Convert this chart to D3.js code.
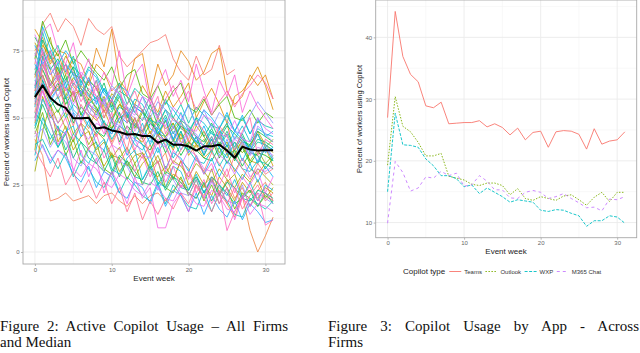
<!DOCTYPE html>
<html><head><meta charset="utf-8">
<script src="https://cdn.jsdelivr.net/npm/d3@7"></script>
<style>body{margin:0;background:#fff}svg{display:block}</style>
</head><body>
<svg id="c" width="640" height="353"></svg>
<script>
const weeks = [0,1,2,3,4,5,6,7,8,9,10,11,12,13,14,15,16,17,18,19,20,21,22,23,24,25,26,27,28,29,30,31];

// Figure 2: one array per firm (percent of workers using Copilot by event week)
const firmUsage = [
[70,85,89,82,87,84,77,87,83,81,84,73,69,72,75,78,79,81,72,67,64,73,66,68,77,66,68],
[42,36,19,20,22,19,20,21,18,21,22,19,17,21,18,21,22,19,23,26,22,20,25,28,21,27,20,24,17,23,26,19],
[60,72,68,57,61,59,51,46,53,48,41,47,44,37,35,40,33,37,27,34,31,24,21,28,25,18,13,21,8,0,6,13],
[75,80,71,74,66,72,70,63,76,69,83,64,60,72,74,58,70,62,66,75,71,64,67,74,76,60,55,58,66,62,66,57],
[83,78,70,75,74,66,65,62,70,67,60,63,58,55,62,57,52,60,54,58,63,50,56,61,55,48,58,60,64,69,62,53],
[55,68,61,64,57,59,60,52,49,53,46,50,51,43,41,45,40,43,38,44,36,40,35,38,41,37,30,35,31,29,33,31],
[65,77,73,66,70,62,58,64,61,54,50,55,53,48,44,50,47,43,46,49,41,39,42,37,45,36,38,41,34,33,39,32],
[48,62,55,41,47,38,43,45,37,32,37,30,34,28,33,36,27,24,29,27,23,30,25,21,28,24,19,26,22,27,20,24],
[78,72,80,66,73,68,61,57,64,52,59,56,49,47,53,44,50,46,48,41,40,47,43,38,44,48,36,42,39,45,40,37],
[38,58,50,53,46,41,48,45,38,41,35,39,32,36,37,30,28,32,27,34,25,28,24,31,22,26,29,21,23,20,24,22],
[30,45,55,48,52,44,48,40,45,42,36,35,39,33,37,31,36,29,34,32,28,33,30,26,31,27,24,29,26,31,28,25],
[68,74,62,69,58,65,61,55,52,58,49,55,51,47,45,51,43,49,41,47,44,40,38,43,37,41,35,40,34,38,33,36],
[57,70,64,60,66,56,62,59,53,50,56,48,54,46,52,49,44,43,48,42,46,40,45,39,43,38,41,37,40,44,39,42],
[44,52,40,46,36,42,33,39,41,31,29,35,27,33,25,31,34,24,22,28,21,27,19,25,18,24,16,22,20,17,21,19],
[72,86,78,73,79,70,75,71,67,64,69,61,66,68,59,57,62,55,60,63,54,52,57,51,55,58,50,49,53,48,52,50],
[62,66,58,63,55,60,51,57,54,48,46,52,44,50,42,48,45,41,39,45,38,43,36,42,35,40,34,39,33,37,36,34],
[50,64,57,52,58,48,54,51,45,43,49,41,47,44,40,38,44,37,42,36,41,38,35,34,39,33,38,32,37,36,31,35],
[80,75,68,72,64,69,66,60,57,63,54,60,58,52,49,55,47,53,50,46,44,50,43,48,42,47,44,41,40,45,43,41],
[46,55,48,39,44,35,41,38,33,30,36,28,34,30,26,25,30,23,28,26,22,20,26,19,25,22,18,20,23,17,22,18],
[66,79,73,68,63,69,58,64,61,55,52,58,50,55,53,48,46,51,44,49,47,43,41,46,40,45,39,44,38,42,41,39],
[52,48,42,47,38,44,41,35,33,38,30,36,33,28,27,32,25,30,28,24,23,28,22,27,21,26,24,20,19,23,22,20],
[74,68,62,66,57,63,60,54,51,57,49,54,52,47,45,50,44,49,42,47,45,41,40,45,39,44,38,43,37,41,40,38],
[58,82,72,77,67,73,63,69,66,60,57,63,55,61,58,53,51,57,50,55,48,54,51,47,46,51,45,50,44,49,47,46],
[40,42,36,31,37,28,34,31,26,24,30,22,28,25,21,19,26,18,25,21,17,16,23,15,22,19,14,13,20,18,16,19],
[64,60,54,58,50,55,52,47,44,49,42,47,45,40,38,43,37,42,35,40,38,34,33,38,32,37,35,31,30,34,33,31],
[54,73,66,70,61,67,64,58,56,61,53,59,51,57,55,49,48,53,46,52,45,50,48,44,43,48,42,47,41,46,44,43],
[36,50,44,39,45,47,36,33,39,42,31,29,35,38,27,33,26,24,32,30,23,29,22,28,25,21,27,20,26,19,25,23],
[70,64,57,61,63,53,50,55,58,47,44,50,52,42,48,40,46,43,39,45,37,43,36,42,39,35,41,34,40,33,39,34],
[61,84,76,70,75,71,62,68,65,59,56,62,60,54,52,58,50,56,53,49,55,47,53,50,46,52,45,51,44,50,43,45],
[47,57,51,46,44,52,43,49,40,38,46,44,36,42,40,33,39,31,37,35,30,36,29,35,28,34,31,27,33,26,32,28],
[77,70,75,64,70,66,59,65,55,61,57,51,48,54,52,46,44,50,42,48,45,41,47,40,46,39,45,42,38,44,37,39],
[34,40,33,38,35,29,26,32,24,30,28,22,20,26,24,18,25,17,23,21,15,22,14,21,16,13,19,12,18,15,11,12],
[59,63,56,61,58,52,49,55,53,46,44,50,42,48,45,41,47,39,45,38,44,41,37,43,36,42,35,41,38,34,40,35],
[68,76,69,64,70,67,61,58,64,56,62,59,54,52,58,50,56,53,49,48,55,47,53,46,52,49,45,44,51,56,52,48],
[43,46,39,44,41,35,32,38,36,30,28,34,32,26,25,31,23,29,27,22,21,27,20,26,24,19,18,25,17,22,20,18],
[56,71,63,58,64,61,54,51,57,55,48,46,52,50,44,43,49,47,41,40,46,44,39,38,44,37,43,41,36,47,44,41],
[72,65,59,63,61,55,60,52,50,57,49,47,54,45,50,48,43,42,47,40,45,43,39,38,43,37,42,40,36,39,38,36],
[49,60,53,48,54,51,45,42,48,46,40,38,44,42,36,35,41,39,33,32,38,36,31,30,36,34,29,35,28,31,30,32],
[81,74,66,71,68,62,67,64,58,55,61,59,53,51,58,56,49,47,54,51,46,45,51,49,44,43,49,42,41,50,46,44],
[45,39,34,38,36,31,28,33,31,26,24,29,27,23,21,26,24,20,19,25,22,18,17,23,21,16,15,21,14,18,17,15],
[50,62,48,40,45,30,38,28,35,22,30,25,18,28,20,24,9,9,18,22,15,25,20,27,18,24,12,20,25,30,22,28],
[73,82,85,75,70,78,65,72,60,67,62,75,58,66,70,55,62,68,58,64,56,70,60,52,64,58,66,52,60,54,50,46],
[62,75,58,66,52,60,48,56,50,44,52,40,47,38,44,36,42,30,38,34,27,35,29,33,25,31,22,28,24,19,22,19],
[55,60,52,45,50,42,48,38,44,35,40,33,38,30,36,28,34,26,32,24,30,22,27,18,23,8,15,20,17,22,10,12],
[66,70,62,67,60,64,56,61,58,52,57,50,55,60,52,58,50,57,62,55,60,53,58,51,56,60,54,59,62,66,63,57],
[60,68,75,64,70,58,66,55,62,50,57,62,48,55,45,52,58,44,50,47,42,49,45,40,47,43,38,45,50,36,42,40],
[38,33,28,35,25,30,22,27,20,26,18,24,15,22,12,19,14,20,16,22,18,25,20,15,22,18,24,16,21,25,19,22],
[52,66,58,62,54,47,55,50,43,48,40,46,38,50,42,36,44,40,33,38,42,35,30,37,33,28,36,31,27,33,29,31]
];
const medianUsage = [57.7,62.1,57.5,55.0,53.7,49.8,49.8,50.0,46.0,46.5,45.3,44.7,43.8,44.0,43.2,43.2,40.7,41.9,40.0,40.0,39.4,37.8,39.4,39.4,40.0,37.8,35.1,39.2,38.2,37.8,37.9,37.9];

// Figure 3: usage by app
const appTypes = ["Teams","Outlook","WXP","M365 Chat"];
const teamsUsage   = [27.0,44.2,36.9,34.0,32.8,28.9,28.6,29.5,26.0,26.1,26.2,26.2,26.5,25.5,26.0,25.4,24.2,25.3,23.4,24.6,24.8,22.2,24.7,24.9,24.8,24.3,21.9,25.2,22.7,23.2,23.4,24.7];
const outlookUsage = [19.3,30.4,25.6,24.7,23.0,20.8,20.8,21.2,17.5,17.2,16.9,16.2,16.0,16.4,16.4,16.0,14.5,15.5,13.9,13.6,14.2,13.9,13.6,14.3,14.5,13.7,12.8,14.1,14.9,13.4,14.9,14.9];
const wxpUsage     = [15.0,27.7,22.6,22.5,22.2,20.3,19.2,17.6,17.6,17.1,15.8,16.1,14.7,15.6,14.9,14.2,13.3,13.7,13.5,13.3,12.0,11.8,12.1,12.0,11.5,11.1,9.4,10.3,10.3,11.1,10.9,9.9];
const m365Usage    = [9.9,19.9,18.1,15.1,15.6,17.4,17.2,18.3,17.6,18.0,15.9,16.1,17.6,16.7,15.3,15.3,14.0,13.9,14.9,15.2,14.9,13.9,14.2,14.7,13.9,13.2,12.4,12.5,11.9,13.8,13.7,14.2];

const xTicks = [0,10,20,30];
const xMinorTicks = [5,15,25];
const leftYTicks = [0,25,50,75];
const leftYMinor = [12.5,37.5,62.5,87.5];
const rightYTicks = [10,20,30,40];
const rightYMinor = [15,25,35,45];

const caption2 = ["Figure 2: Active Copilot Usage – All Firms", "and Median"];
const caption3 = ["Figure 3: Copilot Usage by App - Across", "Firms"];

// ---------- helpers ----------
function hueColor(h, c, l) { // R/ggplot polar-Luv hcl
  const hr = h * Math.PI / 180, U = c * Math.cos(hr), V = c * Math.sin(hr);
  const Xn = 95.047, Yn = 100, Zn = 108.883;
  const un = 4 * Xn / (Xn + 15 * Yn + 3 * Zn), vn = 9 * Yn / (Xn + 15 * Yn + 3 * Zn);
  const Y = l > 8 ? Yn * Math.pow((l + 16) / 116, 3) : Yn * l / 903.3;
  const u = U / (13 * l) + un, v = V / (13 * l) + vn;
  const X = 9 * Y * u / (4 * v);
  const Z = (9 * Y - 15 * v * Y - v * X) / (3 * v);
  const x = X / 100, y = Y / 100, z = Z / 100;
  const lin = [3.2406 * x - 1.5372 * y - 0.4986 * z, -0.9689 * x + 1.8758 * y + 0.0415 * z, 0.0557 * x - 0.2040 * y + 1.0570 * z];
  const g = lin.map(cv => { cv = Math.max(0, Math.min(1, cv)); return Math.round(255 * (cv <= 0.0031308 ? 12.92 * cv : 1.055 * Math.pow(cv, 1 / 2.4) - 0.055)); });
  return `rgb(${g[0]},${g[1]},${g[2]})`;
}

const svg = d3.select("#c");
const FONT = "Liberation Sans, Arial, sans-serif";

function panel(x, y, yTicks, yMinor) {
  const [x0, x1] = x.range(), [yb, yt] = y.range();
  const g = svg.append("g");
  g.selectAll(null).data(yMinor).join("line").attr("x1", x0).attr("x2", x1).attr("y1", d => y(d)).attr("y2", d => y(d)).attr("stroke", "#F4F4F4").attr("stroke-width", 0.6);
  g.selectAll(null).data(xMinorTicks).join("line").attr("y1", yt).attr("y2", yb).attr("x1", d => x(d)).attr("x2", d => x(d)).attr("stroke", "#F4F4F4").attr("stroke-width", 0.6);
  g.selectAll(null).data(yTicks).join("line").attr("x1", x0).attr("x2", x1).attr("y1", d => y(d)).attr("y2", d => y(d)).attr("stroke", "#EBEBEB").attr("stroke-width", 0.9);
  g.selectAll(null).data(xTicks).join("line").attr("y1", yt).attr("y2", yb).attr("x1", d => x(d)).attr("x2", d => x(d)).attr("stroke", "#EBEBEB").attr("stroke-width", 0.9);
  const ax = svg.append("g").attr("transform", `translate(0,${yb})`).call(d3.axisBottom(x).tickValues(xTicks).tickSize(2).tickPadding(1.5));
  const ay = svg.append("g").attr("transform", `translate(${x0},0)`).call(d3.axisLeft(y).tickValues(yTicks).tickSize(2).tickPadding(1.5));
  [ax, ay].forEach(a => {
    a.select(".domain").remove();
    a.selectAll("line").attr("stroke", "#888").attr("stroke-width", 0.6);
    a.selectAll("text").attr("font-size", 6).attr("fill", "#666").attr("font-family", FONT);
  });
  return g;
}
function border(x, y) {
  const [x0, x1] = x.range(), [yb, yt] = y.range();
  svg.append("rect").attr("x", x0).attr("y", yt).attr("width", x1 - x0).attr("height", yb - yt)
    .attr("fill", "none").attr("stroke", "#A8A8A8").attr("stroke-width", 0.9);
}

// ---------- Figure 2 ----------
const xL = d3.scaleLinear().domain([-1.55, 32.55]).range([23, 285]);
const yL = d3.scaleLinear().domain([-4.47, 93.9]).range([264, 0]);
panel(xL, yL, leftYTicks, leftYMinor);
const lineL = d3.line().x((d, i) => xL(weeks[i])).y(d => yL(d));
const nF = firmUsage.length;
svg.append("g").selectAll("path").data(firmUsage).join("path")
  .attr("d", lineL).attr("fill", "none")
  .attr("stroke", (d, i) => hueColor(15 + 360 * i / nF, 100, 65))
  .attr("stroke-width", 0.8);
svg.append("path").datum(medianUsage).attr("d", lineL).attr("fill", "none").attr("stroke", "#000").attr("stroke-width", 2).attr("stroke-linejoin", "round");
border(xL, yL);
svg.append("text").attr("x", 154).attr("y", 280.5).attr("text-anchor", "middle").attr("font-size", 8).attr("font-family", FONT).attr("fill", "#222").text("Event week");
svg.append("text").attr("transform", "translate(8.5,132) rotate(-90)").attr("text-anchor", "middle").attr("font-size", 7.5).attr("font-family", FONT).attr("fill", "#222").text("Percent of workers using Copilot");

// ---------- Figure 3 ----------
const xR = d3.scaleLinear().domain([-1.55, 32.55]).range([375.7, 636.7]);
const yR = d3.scaleLinear().domain([7.55, 46.05]).range([237.7, 0]);
panel(xR, yR, rightYTicks, rightYMinor);
const appSeries = [teamsUsage, outlookUsage, wxpUsage, m365Usage];
const appColors = appTypes.map((t, i) => hueColor(15 + 360 * i / appTypes.length, 100, 65));
const appDash = ["none", "1.5,1.5", "3,1.5", "3,3"];
const lineR = d3.line().x((d, i) => xR(weeks[i])).y(d => yR(d));
svg.append("g").selectAll("path").data(appSeries).join("path")
  .attr("d", lineR).attr("fill", "none")
  .attr("stroke", (d, i) => appColors[i]).attr("stroke-dasharray", (d, i) => appDash[i])
  .attr("stroke-width", 0.9);
border(xR, yR);
svg.append("text").attr("x", 506).attr("y", 253.5).attr("text-anchor", "middle").attr("font-size", 8).attr("font-family", FONT).attr("fill", "#222").text("Event week");
svg.append("text").attr("transform", "translate(362,119) rotate(-90)").attr("text-anchor", "middle").attr("font-size", 7.5).attr("font-family", FONT).attr("fill", "#222").text("Percent of workers using Copilot");

// legend
const lg = svg.append("g");
let lx = 403; const ly = 271.5;
const lt = lg.append("text").attr("x", lx).attr("y", ly + 2.8).attr("font-size", 8).attr("font-family", FONT).attr("fill", "#222").text("Copilot type");
lx += lt.node().getComputedTextLength() + 4;
appTypes.forEach((t, i) => {
  lg.append("line").attr("x1", lx).attr("x2", lx + 12).attr("y1", ly).attr("y2", ly).attr("stroke", appColors[i]).attr("stroke-width", 0.9).attr("stroke-dasharray", appDash[i]);
  lx += 15;
  const tt = lg.append("text").attr("x", lx).attr("y", ly + 2.1).attr("font-size", 6).attr("font-family", FONT).attr("fill", "#333").text(t);
  lx += tt.node().getComputedTextLength() + 3.5;
});

// captions
const SERIF = "Liberation Serif, Times New Roman, serif";
function caption(lines, x0, width, y0) {
  lines.forEach((s, k) => {
    const t = svg.append("text").attr("x", x0).attr("y", y0 + k * 16).attr("font-size", 15).attr("font-family", SERIF).attr("fill", "#111").text(s);
    if (k < lines.length - 1) {
      const w = t.node().getComputedTextLength();
      const n = (s.match(/ /g) || []).length;
      t.attr("word-spacing", Math.max(0, (width - w) / n));
    }
  });
}
caption(caption2, 0, 288, 331);
caption(caption3, 328, 311, 331);
</script>
</body></html>
